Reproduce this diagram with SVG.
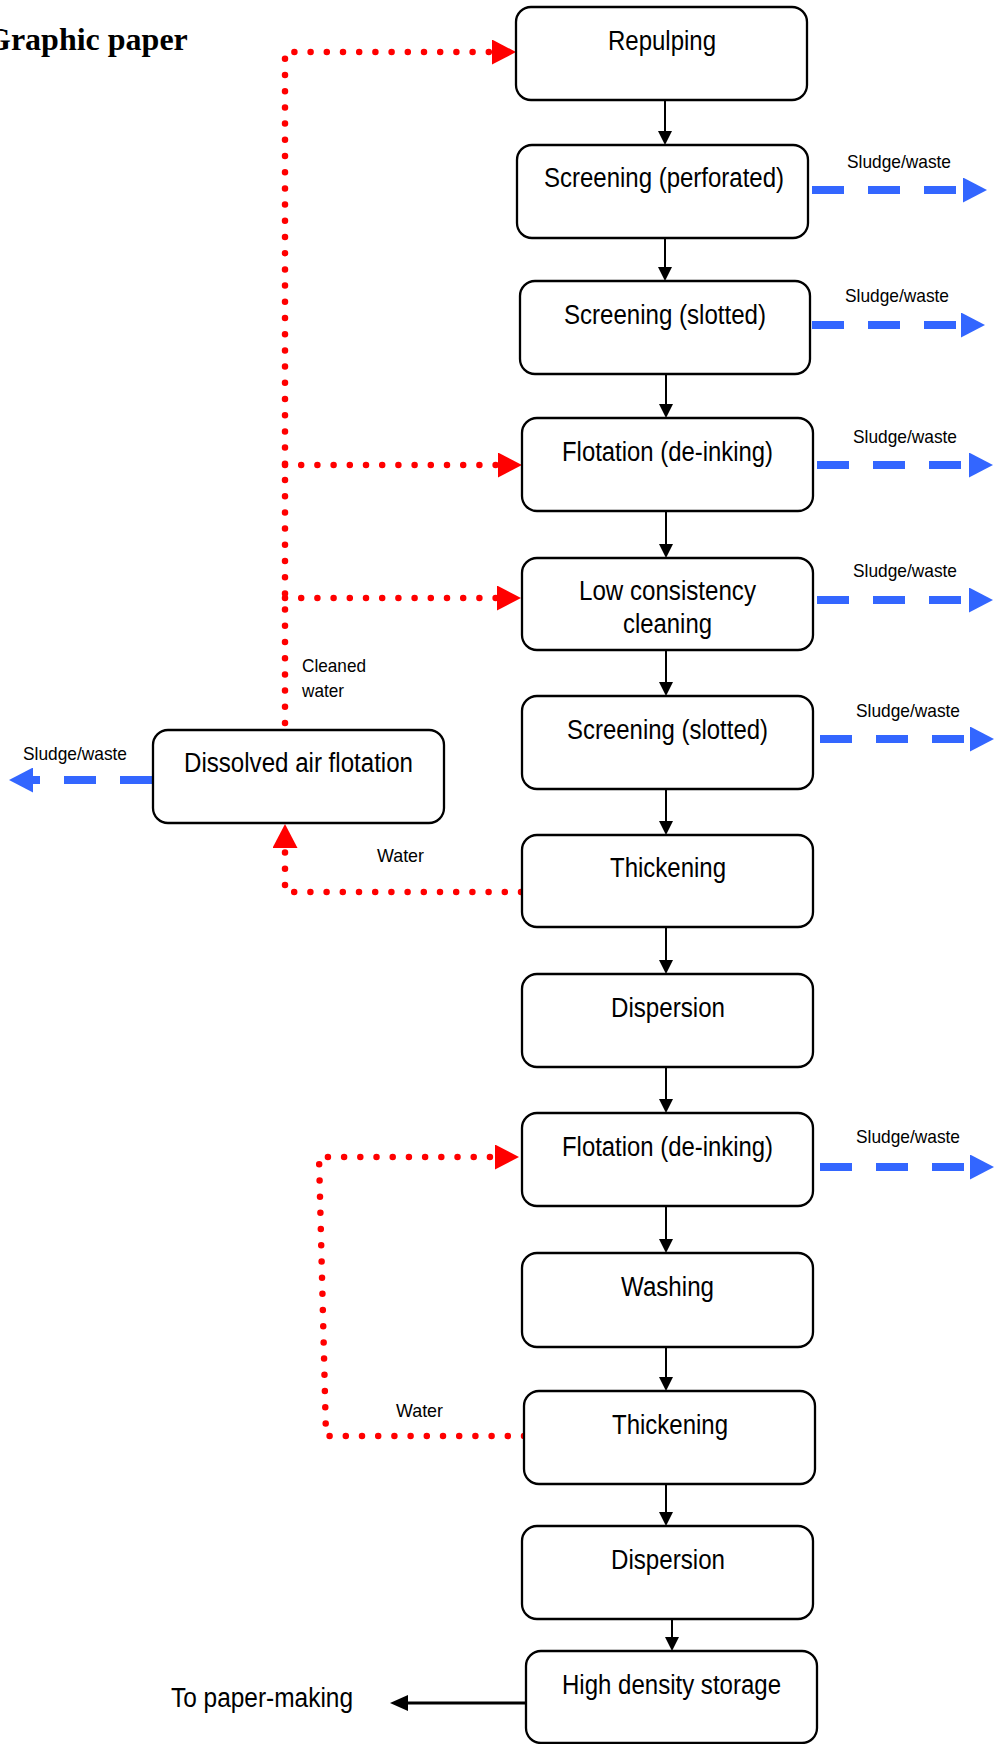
<svg xmlns="http://www.w3.org/2000/svg" width="994" height="1744" viewBox="0 0 994 1744">
<style>
.box{fill:#fff;stroke:#000;stroke-width:2.3}
.lbl{font-family:"Liberation Sans",Arial,sans-serif;font-size:27px;fill:#000}
.sm{font-family:"Liberation Sans",Arial,sans-serif;font-size:19px;fill:#000}
.ttl{font-family:"Liberation Serif","Times New Roman",serif;font-size:32px;font-weight:bold;fill:#000}
.flow{stroke:#000;stroke-width:2;fill:none}
.red{stroke:#ff0000;stroke-width:6.5;stroke-dasharray:0 16.2;stroke-linecap:round;fill:none}
.blue{stroke:#3366ff;stroke-width:8;stroke-dasharray:32 24;fill:none}
</style>
<defs>
<marker id="ab" viewBox="0 0 14 14" refX="0" refY="7" markerWidth="14" markerHeight="14" markerUnits="userSpaceOnUse" orient="auto"><path d="M0,0 L14,7 L0,14 z" fill="#000"/></marker>
<marker id="ab2" viewBox="0 0 18 16" refX="0" refY="8" markerWidth="18" markerHeight="16" markerUnits="userSpaceOnUse" orient="auto"><path d="M0,0 L18,8 L0,16 z" fill="#000"/></marker>
<marker id="ar" viewBox="0 0 24 25" refX="0" refY="12.5" markerWidth="24" markerHeight="25" markerUnits="userSpaceOnUse" orient="auto"><path d="M0,0 L24,12.5 L0,25 z" fill="#ff0000"/></marker>
<marker id="abl" viewBox="0 0 24 25" refX="0" refY="12.5" markerWidth="24" markerHeight="25" markerUnits="userSpaceOnUse" orient="auto"><path d="M0,0 L24,12.5 L0,25 z" fill="#3366ff"/></marker>
</defs>
<rect width="994" height="1744" fill="#fff"/>
<text class="ttl" x="-14" y="50">Graphic paper</text>

<g id="connectors">
<line class="flow" x1="665" y1="100" x2="665" y2="131" marker-end="url(#ab)"/>
<line class="flow" x1="665" y1="238" x2="665" y2="267" marker-end="url(#ab)"/>
<line class="flow" x1="666" y1="374" x2="666" y2="404" marker-end="url(#ab)"/>
<line class="flow" x1="666" y1="511" x2="666" y2="544" marker-end="url(#ab)"/>
<line class="flow" x1="666" y1="650" x2="666" y2="682" marker-end="url(#ab)"/>
<line class="flow" x1="666" y1="789" x2="666" y2="821" marker-end="url(#ab)"/>
<line class="flow" x1="666" y1="927" x2="666" y2="960" marker-end="url(#ab)"/>
<line class="flow" x1="666" y1="1067" x2="666" y2="1099" marker-end="url(#ab)"/>
<line class="flow" x1="666" y1="1206" x2="666" y2="1239" marker-end="url(#ab)"/>
<line class="flow" x1="666" y1="1347" x2="666" y2="1377" marker-end="url(#ab)"/>
<line class="flow" x1="666" y1="1484" x2="666" y2="1512" marker-end="url(#ab)"/>
<line class="flow" x1="672" y1="1619" x2="672" y2="1637" marker-end="url(#ab)"/>
<line stroke="#000" stroke-width="3" x1="526" y1="1703" x2="408" y2="1703" marker-end="url(#ab2)"/>

<path class="red" d="M285,723 V52 H492" marker-end="url(#ar)"/>
<path class="red" d="M285,465 H498" marker-end="url(#ar)"/>
<path class="red" d="M285,598 H497" marker-end="url(#ar)"/>
<path class="red" d="M521,892 H285 V848" marker-end="url(#ar)"/>
<path class="red" d="M524,1436 H326 L319,1157 H495" marker-end="url(#ar)"/>

<line class="blue" x1="812" y1="190" x2="963" y2="190" marker-end="url(#abl)"/>
<line class="blue" x1="812" y1="325" x2="961" y2="325" marker-end="url(#abl)"/>
<line class="blue" x1="817" y1="465" x2="969" y2="465" marker-end="url(#abl)"/>
<line class="blue" x1="817" y1="600" x2="969" y2="600" marker-end="url(#abl)"/>
<line class="blue" x1="820" y1="739" x2="970" y2="739" marker-end="url(#abl)"/>
<line class="blue" x1="820" y1="1167" x2="970" y2="1167" marker-end="url(#abl)"/>
<line class="blue" x1="152" y1="780" x2="33" y2="780" marker-end="url(#abl)"/>

<text class="sm" x="847" y="168" textLength="104" lengthAdjust="spacingAndGlyphs">Sludge/waste</text>
<text class="sm" x="845" y="302" textLength="104" lengthAdjust="spacingAndGlyphs">Sludge/waste</text>
<text class="sm" x="853" y="443" textLength="104" lengthAdjust="spacingAndGlyphs">Sludge/waste</text>
<text class="sm" x="853" y="577" textLength="104" lengthAdjust="spacingAndGlyphs">Sludge/waste</text>
<text class="sm" x="856" y="717" textLength="104" lengthAdjust="spacingAndGlyphs">Sludge/waste</text>
<text class="sm" x="856" y="1143" textLength="104" lengthAdjust="spacingAndGlyphs">Sludge/waste</text>
<text class="sm" x="23" y="760" textLength="104" lengthAdjust="spacingAndGlyphs">Sludge/waste</text>
<text class="sm" x="302" y="672" textLength="64" lengthAdjust="spacingAndGlyphs">Cleaned</text>
<text class="sm" x="302" y="697" textLength="42" lengthAdjust="spacingAndGlyphs">water</text>
<text class="sm" x="377" y="862" textLength="47" lengthAdjust="spacingAndGlyphs">Water</text>
<text class="sm" x="396" y="1417" textLength="47" lengthAdjust="spacingAndGlyphs">Water</text>
<text class="lbl" x="171" y="1707" textLength="182" lengthAdjust="spacingAndGlyphs">To paper-making</text>
</g>

<g id="repulping"><rect class="box" x="516" y="7" width="291" height="93" rx="15"/><text class="lbl" x="608" y="50" textLength="108" lengthAdjust="spacingAndGlyphs">Repulping</text></g>
<g id="screening-perforated"><rect class="box" x="517" y="145" width="291" height="93" rx="15"/><text class="lbl" x="544" y="187" textLength="240" lengthAdjust="spacingAndGlyphs">Screening (perforated)</text></g>
<g id="screening-slotted-1"><rect class="box" x="520" y="281" width="290" height="93" rx="15"/><text class="lbl" x="564" y="324" textLength="202" lengthAdjust="spacingAndGlyphs">Screening (slotted)</text></g>
<g id="flotation-1"><rect class="box" x="522" y="418" width="291" height="93" rx="15"/><text class="lbl" x="562" y="461" textLength="211" lengthAdjust="spacingAndGlyphs">Flotation (de-inking)</text></g>
<g id="low-consistency"><rect class="box" x="522" y="558" width="291" height="92" rx="15"/><text class="lbl" x="579" y="600" textLength="177" lengthAdjust="spacingAndGlyphs">Low consistency</text><text class="lbl" x="623" y="633" textLength="89" lengthAdjust="spacingAndGlyphs">cleaning</text></g>
<g id="screening-slotted-2"><rect class="box" x="522" y="696" width="291" height="93" rx="15"/><text class="lbl" x="567" y="739" textLength="201" lengthAdjust="spacingAndGlyphs">Screening (slotted)</text></g>
<g id="thickening-1"><rect class="box" x="522" y="835" width="291" height="92" rx="15"/><text class="lbl" x="610" y="877" textLength="116" lengthAdjust="spacingAndGlyphs">Thickening</text></g>
<g id="dispersion-1"><rect class="box" x="522" y="974" width="291" height="93" rx="15"/><text class="lbl" x="611" y="1017" textLength="114" lengthAdjust="spacingAndGlyphs">Dispersion</text></g>
<g id="flotation-2"><rect class="box" x="522" y="1113" width="291" height="93" rx="15"/><text class="lbl" x="562" y="1156" textLength="211" lengthAdjust="spacingAndGlyphs">Flotation (de-inking)</text></g>
<g id="washing"><rect class="box" x="522" y="1253" width="291" height="94" rx="15"/><text class="lbl" x="621" y="1296" textLength="93" lengthAdjust="spacingAndGlyphs">Washing</text></g>
<g id="thickening-2"><rect class="box" x="524" y="1391" width="291" height="93" rx="15"/><text class="lbl" x="612" y="1434" textLength="116" lengthAdjust="spacingAndGlyphs">Thickening</text></g>
<g id="dispersion-2"><rect class="box" x="522" y="1526" width="291" height="93" rx="15"/><text class="lbl" x="611" y="1569" textLength="114" lengthAdjust="spacingAndGlyphs">Dispersion</text></g>
<g id="high-density-storage"><rect class="box" x="526" y="1651" width="291" height="92" rx="15"/><text class="lbl" x="562" y="1694" textLength="219" lengthAdjust="spacingAndGlyphs">High density storage</text></g>
<g id="dissolved-air-flotation"><rect class="box" x="153" y="730" width="291" height="93" rx="15"/><text class="lbl" x="184" y="772" textLength="229" lengthAdjust="spacingAndGlyphs">Dissolved air flotation</text></g>
</svg>
